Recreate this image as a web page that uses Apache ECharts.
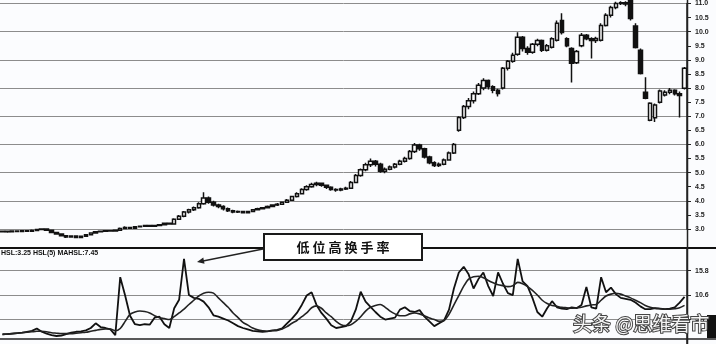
<!DOCTYPE html>
<html>
<head>
<meta charset="utf-8">
<script src="https://cdn.jsdelivr.net/npm/echarts@6/dist/echarts.min.js"></script>
<style>
html,body{margin:0;padding:0;background:#fbfcfe;}
#c{width:716px;height:344px;}
</style>
</head>
<body>
<div id="c"></div>
<script>
// [open, close, low, high]
const candles = [
[2.90,2.92,2.88,2.95],[2.92,2.90,2.87,2.94],[2.90,2.93,2.89,2.95],[2.93,2.91,2.89,2.95],[2.91,2.94,2.90,2.96],
[2.94,2.92,2.90,2.96],[2.92,2.95,2.91,2.98],[2.95,2.98,2.93,3.01],[2.98,3.00,2.96,3.03],[3.00,2.96,2.94,3.01],
[2.96,2.88,2.86,2.97],[2.88,2.82,2.80,2.89],[2.82,2.76,2.74,2.84],[2.76,2.72,2.68,2.78],[2.72,2.75,2.70,2.78],
[2.75,2.70,2.68,2.77],[2.70,2.74,2.69,2.77],[2.74,2.80,2.73,2.82],[2.80,2.86,2.79,2.88],[2.86,2.90,2.84,2.92],
[2.90,2.92,2.88,2.94],[2.92,2.94,2.90,2.96],[2.94,2.93,2.91,2.96],[2.93,2.96,2.92,2.98],[2.96,3.02,2.95,3.05],
[3.02,3.05,3.00,3.10],[3.05,3.03,3.00,3.07],[3.03,3.08,3.02,3.10],[3.08,3.10,3.06,3.12],[3.10,3.12,3.08,3.14],
[3.12,3.10,3.07,3.14],[3.10,3.12,3.08,3.15],[3.12,3.15,3.10,3.18],[3.15,3.20,3.13,3.22],[3.20,3.18,3.15,3.23],
[3.18,3.35,3.17,3.38],[3.35,3.45,3.32,3.50],[3.45,3.60,3.42,3.64],[3.60,3.68,3.55,3.72],[3.68,3.75,3.64,3.80],
[3.75,3.90,3.72,3.95],[3.90,4.10,3.86,4.30],[4.10,3.95,3.90,4.15],[3.95,3.85,3.80,4.00],[3.85,3.80,3.74,3.90],
[3.80,3.72,3.66,3.84],[3.72,3.65,3.60,3.76],[3.65,3.60,3.56,3.68],[3.60,3.62,3.57,3.66],[3.62,3.58,3.55,3.65],
[3.58,3.62,3.56,3.65],[3.62,3.68,3.60,3.70],[3.68,3.72,3.66,3.75],[3.72,3.75,3.70,3.78],[3.75,3.80,3.73,3.83],
[3.80,3.85,3.78,3.88],[3.85,3.88,3.82,3.92],[3.88,3.95,3.86,3.98],[3.95,4.02,3.93,4.06],[4.02,4.15,4.00,4.18],
[4.15,4.25,4.12,4.30],[4.25,4.40,4.22,4.45],[4.40,4.50,4.36,4.55],[4.50,4.58,4.46,4.64],[4.58,4.62,4.52,4.68],
[4.62,4.55,4.50,4.65],[4.55,4.48,4.42,4.58],[4.48,4.40,4.36,4.52],[4.40,4.38,4.32,4.45],[4.38,4.42,4.34,4.46],
[4.42,4.45,4.38,4.50],[4.45,4.65,4.43,4.70],[4.65,4.90,4.62,4.95],[4.90,5.10,4.85,5.15],[5.10,5.28,5.05,5.35],
[5.28,5.40,5.20,5.50],[5.40,5.30,5.22,5.45],[5.30,5.05,5.00,5.35],[5.05,5.12,4.98,5.18],[5.12,5.20,5.08,5.25],
[5.20,5.30,5.15,5.34],[5.30,5.40,5.26,5.46],[5.40,5.50,5.36,5.56],[5.50,5.75,5.46,5.80],[5.75,5.98,5.70,6.05],
[5.98,5.85,5.78,6.02],[5.85,5.55,5.50,5.88],[5.55,5.35,5.30,5.60],[5.35,5.25,5.20,5.40],[5.25,5.30,5.20,5.36],
[5.30,5.45,5.26,5.50],[5.45,5.70,5.42,5.75],[5.70,6.00,5.66,6.05],[6.50,6.96,6.45,7.00],[6.96,7.35,6.90,7.40],
[7.35,7.55,7.25,7.65],[7.55,7.80,7.45,7.88],[7.80,8.10,7.75,8.18],[8.00,8.27,7.92,8.35],[8.27,8.05,7.95,8.30],
[8.05,7.92,7.82,8.10],[7.92,7.81,7.70,7.98],[8.00,8.70,7.95,8.75],[8.70,8.95,8.62,9.00],[8.95,9.16,8.90,9.25],
[9.20,9.80,9.15,9.98],[9.80,9.40,9.30,9.85],[9.40,9.27,9.18,9.48],[9.27,9.55,9.22,9.60],[9.55,9.69,9.48,9.75],
[9.69,9.34,9.28,9.72],[9.34,9.50,9.30,9.56],[9.45,9.75,9.40,9.80],[9.70,10.30,9.65,10.40],[10.40,9.97,9.90,10.65],
[9.75,9.50,9.45,9.80],[9.40,8.88,8.20,9.45],[8.90,9.30,8.85,9.35],[9.50,9.87,9.45,9.95],[9.87,9.75,9.70,9.92],
[9.75,9.69,9.05,9.80],[9.69,9.76,9.60,9.82],[9.70,10.22,9.65,10.30],[10.22,10.58,10.18,10.65],[10.58,10.86,10.50,10.92],
[10.86,11.00,10.80,11.06],[11.00,11.03,10.95,11.08],[11.03,10.98,10.90,11.08],[11.10,10.47,10.40,11.12],[10.20,9.44,9.40,10.30],
[9.34,8.52,8.48,9.40],[7.85,7.64,7.60,8.38],[6.86,7.46,6.82,7.50],[6.95,7.40,6.80,7.45],[7.50,7.90,7.45,7.95],
[7.75,7.85,7.70,7.92],[7.85,7.92,7.78,8.00],[7.92,7.80,7.74,7.96],[7.80,7.74,6.96,7.88],[7.99,8.70,7.95,8.75]
];

// turnover rate (raw) and its moving average
const hsl = [
2.3,2.3,2.4,2.5,2.6,2.8,3.0,3.5,2.8,2.4,
2.1,1.9,2.0,2.3,2.6,2.8,2.9,3.1,3.6,4.6,
3.8,3.6,3.3,2.1,14.4,10.5,6.2,4.4,4.2,4.4,
4.3,5.8,6.0,4.4,3.6,7.8,9.6,18.3,10.6,10.0,
9.8,9.2,8.0,6.3,6.0,5.6,5.2,4.6,4.0,3.6,
3.3,3.0,2.9,2.8,2.9,3.1,3.2,3.5,4.6,5.6,
6.8,8.5,10.5,11.2,8.5,6.8,5.6,4.2,3.6,3.8,
4.0,5.0,7.5,11.3,9.2,8.1,7.0,6.0,5.4,5.6,
5.8,7.5,8.0,7.2,7.0,7.4,6.0,5.0,4.0,4.6,
5.2,7.5,12.0,15.4,16.6,15.0,12.0,14.0,15.4,12.5,
10.4,15.4,13.0,11.0,10.6,18.3,13.5,12.5,10.0,7.0,
6.0,7.8,9.3,8.0,7.7,7.6,8.0,7.8,8.5,12.3,
8.0,7.7,14.4,11.2,12.2,10.8,10.0,9.8,9.6,9.0,
8.2,7.6,7.6,7.8,7.7,7.6,7.7,8.0,9.0,10.2
];
const hslMA = [
2.2,2.3,2.4,2.5,2.6,2.7,2.8,2.9,2.9,2.8,
2.6,2.5,2.4,2.4,2.4,2.5,2.6,2.7,2.9,3.1,
3.3,3.4,3.4,3.0,3.5,5.0,6.5,7.0,7.2,7.1,
6.8,6.2,5.8,5.6,5.4,6.0,6.8,7.6,8.6,9.5,
10.4,11.0,11.2,11.0,10.0,9.0,8.0,6.8,5.8,4.8,
4.2,3.6,3.2,3.0,2.9,3.0,3.1,3.4,3.9,4.6,
5.2,6.0,6.8,7.9,8.3,7.8,6.8,6.0,5.0,4.3,
4.1,4.3,5.0,6.0,7.2,8.0,8.4,8.6,8.0,7.2,
6.6,6.2,6.2,6.6,6.8,6.6,6.2,5.7,5.4,5.0,
5.2,6.5,8.5,10.5,12.5,14.0,14.5,14.6,14.3,13.7,
13.2,12.8,12.6,12.4,12.6,13.3,13.0,12.4,11.6,10.6,
9.5,8.8,8.4,8.2,8.0,7.9,7.8,7.9,8.0,8.3,
8.5,8.6,9.5,10.4,10.8,11.0,10.8,10.4,10.0,9.5,
9.0,8.4,8.0,7.8,7.7,7.6,7.6,7.7,7.9,8.4
];
const days = candles.map((_, i) => String(i + 1));

const priceMin = 3.0, priceMax = 11.0, priceLabelStep = 0.5, priceGridStep = 1.0;
const hslMin = 0.2, hslMax = 20.6, hslStep = 5.2;
const noteText = '低 位 高 换 手 率';
const legendText = 'HSL:3.25 HSL(5) MAHSL:7.45';
const watermark = '头条 @思维看市';

const chart = echarts.init(document.getElementById('c'), null, {renderer: 'canvas'});
const labelStyle = {color: '#222', fontSize: 7, fontWeight: 'bold', fontFamily: 'Liberation Sans', margin: 8,
  formatter: v => v.toFixed(1)};
chart.setOption({
  animation: false,
  backgroundColor: '#fbfcfe',
  grid: [
    {left: 0, right: 29, top: 3, height: 226},
    {left: 0, right: 29, top: 248, height: 98}
  ],
  xAxis: [
    {type: 'category', data: days, gridIndex: 0, show: false, boundaryGap: true},
    {type: 'category', data: days, gridIndex: 1, show: false, boundaryGap: true}
  ],
  yAxis: [
    {type: 'value', gridIndex: 0, position: 'right', min: priceMin, max: priceMax, interval: priceLabelStep,
     axisLine: {show: true, lineStyle: {color: '#222', width: 1.5}},
     axisTick: {show: true, length: 4, lineStyle: {color: '#222'}},
     axisLabel: labelStyle, splitLine: {show: false}},
    {type: 'value', gridIndex: 0, position: 'right', min: priceMin, max: priceMax, interval: priceGridStep,
     axisLine: {show: false}, axisTick: {show: false}, axisLabel: {show: false},
     splitLine: {show: true, lineStyle: {color: '#8c8c8c', width: 1}}},
    {type: 'value', gridIndex: 1, position: 'right', min: hslMin, max: hslMax, interval: hslStep,
     axisLine: {show: true, lineStyle: {color: '#222', width: 1.5}},
     axisTick: {show: true, length: 4, lineStyle: {color: '#222'}},
     axisLabel: Object.assign({}, labelStyle, {showMinLabel: false, showMaxLabel: false}),
     splitLine: {show: true, lineStyle: {color: '#8c8c8c', width: 1}}}
  ],
  series: [
    {type: 'candlestick', xAxisIndex: 0, yAxisIndex: 0, data: candles, clip: false, barWidth: '80%',
     itemStyle: {color: '#ffffff', color0: '#111111', borderColor: '#111111', borderColor0: '#111111', borderWidth: 1.5}},
    {type: 'line', xAxisIndex: 1, yAxisIndex: 2, data: hsl, symbol: 'none',
     lineStyle: {color: '#111', width: 1.8}},
    {type: 'line', xAxisIndex: 1, yAxisIndex: 2, data: hslMA, symbol: 'none', smooth: 0.3,
     lineStyle: {color: '#222', width: 1.6}}
  ],
  graphic: [
    {type: 'line', shape: {x1: 0, y1: 248, x2: 716, y2: 248}, style: {stroke: '#111', lineWidth: 2}, z: 50},
    {type: 'line', shape: {x1: 0, y1: 339, x2: 716, y2: 339}, style: {stroke: '#222', lineWidth: 1.5}, z: 50},
    {type: 'line', shape: {x1: 687.5, y1: 0, x2: 687.5, y2: 344}, style: {stroke: '#222', lineWidth: 1.5}, z: 50},
    {type: 'text', left: 1, top: 250, z: 60,
     style: {text: legendText, fill: '#111', font: 'bold 7px "Liberation Sans"'}},
    {type: 'polyline', shape: {points: [[263, 249], [203, 261]]}, style: {stroke: '#222', lineWidth: 1.3}, z: 60},
    {type: 'polygon', shape: {points: [[197, 262], [204.5, 263.8], [203.3, 257.6]]}, style: {fill: '#222'}, z: 60},
    {type: 'rect', shape: {x: 264, y: 234, width: 158, height: 26}, style: {fill: '#fff', stroke: '#1a1a1a', lineWidth: 2}, z: 60},
    {type: 'text', x: 343, y: 247, z: 61,
     style: {text: noteText, fill: '#111', font: 'bold 13px "Noto Sans CJK SC"', textAlign: 'center', textVerticalAlign: 'middle'}},
    {type: 'rect', shape: {x: 707, y: 315, width: 9, height: 23}, style: {fill: '#111'}, z: 60},
    {type: 'text', x: 573, y: 324, z: 70,
     style: {text: watermark, fill: '#f4f4f4', stroke: '#444', lineWidth: 2, font: '19px "Noto Sans CJK SC"', textVerticalAlign: 'middle'}}
  ]
});
</script>
</body>
</html>
